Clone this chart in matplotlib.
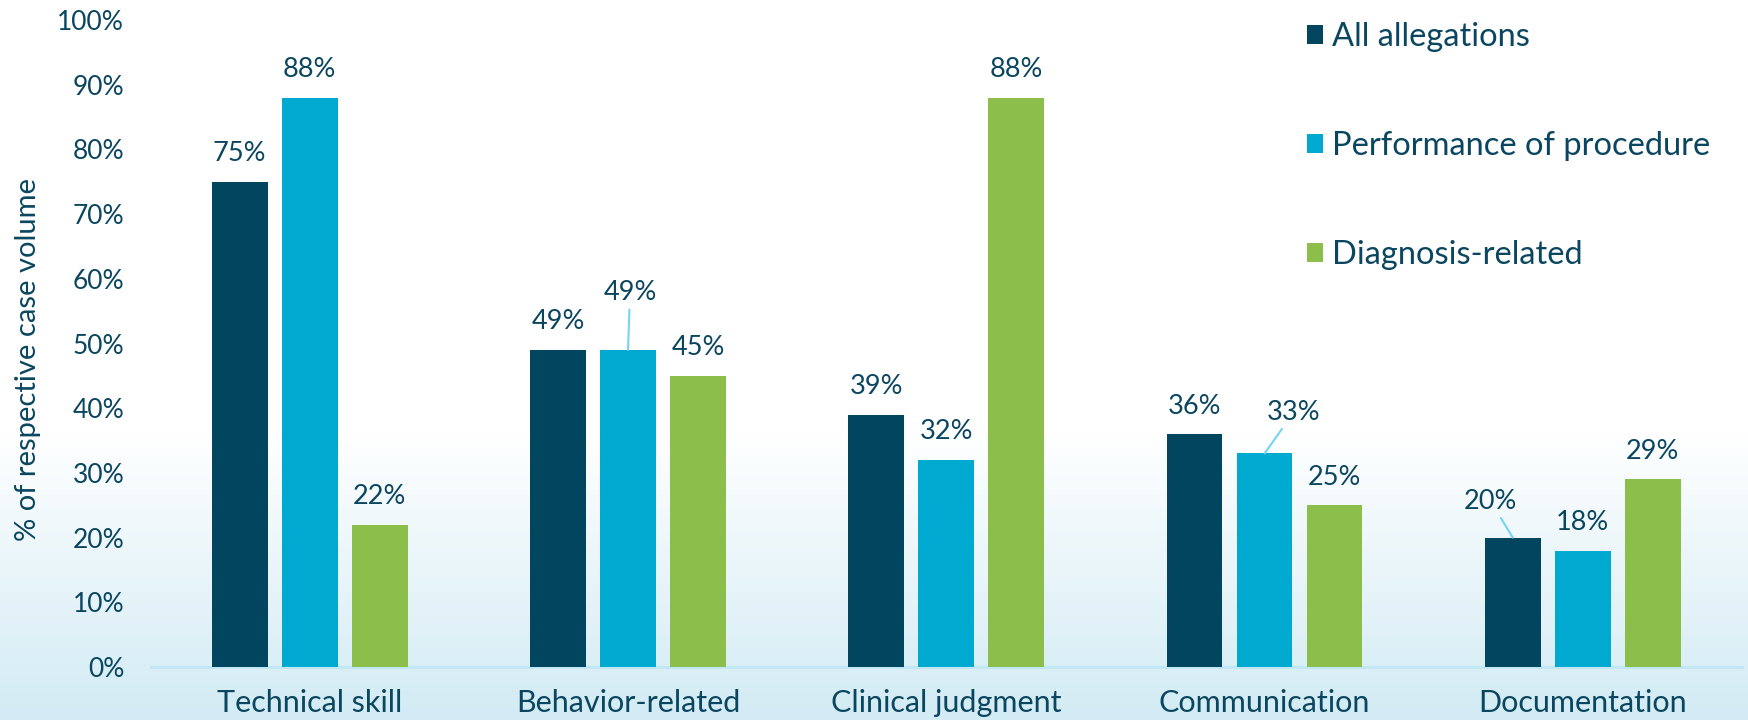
import numpy as np
import matplotlib.pyplot as plt

categories = ['Technical skill', 'Behavior-related', 'Clinical judgment',
              'Communication', 'Documentation']
series_names = ['All allegations', 'Performance of procedure', 'Diagnosis-related']
all_allegations = [75, 49, 39, 36, 20]
performance_of_procedure = [88, 49, 32, 33, 18]
diagnosis_related = [22, 45, 88, 25, 29]
y_ticks = [0, 10, 20, 30, 40, 50, 60, 70, 80, 90, 100]

colors = ['#02455f', '#00a9d0', '#8bbe4b']
text_color = '#0b4660'
leader_color = '#74d4f4'

# labels moved off the bar top and joined by a leader line: (series, category) -> (dx, dy) in px
leaders = {(1, 1): (2, 57), (1, 3): (29, 41), (0, 4): (-22, 36)}

plt.rcParams['font.family'] = ['Lato', 'DejaVu Sans']

W, H = 1749, 720
fig = plt.figure(figsize=(W / 100, H / 100), dpi=100)

# background: white fading to light blue at the bottom
bg = fig.add_axes([0, 0, 1, 1], zorder=-1)
ypx = np.arange(H)
t = np.clip((ypx - 430) / (H - 430), 0, 1)[:, None, None]
top = np.array([1.0, 1.0, 1.0])
bottom = np.array([0xd2, 0xeb, 0xf4]) / 255
img = top * (1 - t) + bottom * t
bg.imshow(np.repeat(img, 2, axis=1), aspect='auto', extent=[0, 1, 0, 1])
bg.axis('off')

left, right, ybot, ytop = 150.6, 1742, 667, 20
ax = fig.add_axes([left / W, (H - ybot) / H, (right - left) / W, (ybot - ytop) / H])
ax.set_facecolor('none')

x = np.arange(len(categories))
offsets = [-0.22, 0.0, 0.22]
width = 0.175
series = [all_allegations, performance_of_procedure, diagnosis_related]

handles = []
for i, vals in enumerate(series):
    bars = ax.bar(x + offsets[i], vals, width, color=colors[i], zorder=3)
    handles.append(bars)
    for j, v in enumerate(vals):
        dx, dy = leaders.get((i, j), (0, 28))
        arrow = None
        if (i, j) in leaders:
            arrow = dict(arrowstyle='-', color=leader_color, lw=1.5,
                         shrinkA=1, shrinkB=0)
        ax.annotate(f'{v}%', xy=(x[j] + offsets[i], v),
                    xytext=(dx * 0.72, dy * 0.72), textcoords='offset points',
                    ha='center', va='center', fontsize=19.5, color=text_color,
                    arrowprops=arrow, zorder=4)

ax.set_xlim(-0.5, len(categories) - 0.5)
ax.set_ylim(0, 100)
ax.set_yticks(y_ticks)
ax.set_yticklabels([f'{v}%' for v in y_ticks])
ax.set_xticks(x)
ax.set_xticklabels(categories)
ax.tick_params(axis='y', length=0, pad=19, labelsize=19, labelcolor=text_color)
ax.tick_params(axis='x', length=0, pad=16, labelsize=22, labelcolor=text_color)

for s in ['top', 'right', 'left']:
    ax.spines[s].set_visible(False)
ax.spines['bottom'].set_color('#bfe7f6')
ax.spines['bottom'].set_linewidth(2)

ax.set_ylabel('% of respective case volume', fontsize=21, color=text_color)
ax.yaxis.set_label_coords(-0.069, 0.476)

ax.legend(handles, series_names, loc='upper left',
          bbox_to_anchor=(1307 / W, 1 - 22 / H), bbox_transform=fig.transFigure,
          frameon=False, fontsize=23.5, labelcolor=text_color,
          handlelength=0.5, handleheight=0.5, handletextpad=0.28,
          labelspacing=2.42, borderpad=0, borderaxespad=0)

fig.savefig('out.png', dpi=100)
